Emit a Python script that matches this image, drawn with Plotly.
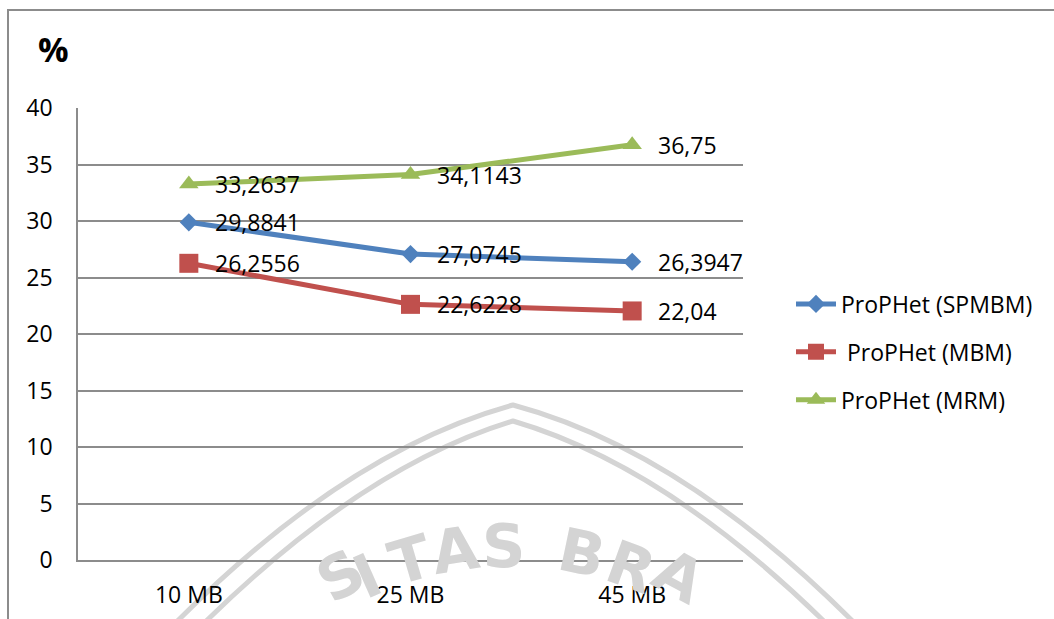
import math
import plotly.graph_objects as go

# ---- data ----
categories = ["10 MB", "25 MB", "45 MB"]
series_names = ["ProPHet (SPMBM)", " ProPHet (MBM)", "ProPHet (MRM)"]
spmbm = [29.8841, 27.0745, 26.3947]
mbm = [26.2556, 22.6228, 22.04]
mrm = [33.2637, 34.1143, 36.75]
y_ticks = [0, 5, 10, 15, 20, 25, 30, 35, 40]

colors = ["#4F81BD", "#C0504D", "#9BBB59"]
symbols = ["diamond", "square", "triangle-up"]
sizes = [14, 19, 17]

W, H = 1054, 619
L, R, T, B = 78, 743, 108, 560


def px(x):
    return (x - L) / (R - L)


def py(y):
    return (B - y) / (B - T)


FONT = "Open Sans"

fig = go.Figure()
for i, vals in enumerate([spmbm, mbm, mrm]):
    fig.add_trace(go.Scatter(
        x=categories, y=vals, name=series_names[i],
        mode="lines+markers",
        line=dict(color=colors[i], width=5),
        marker=dict(symbol=symbols[i], size=sizes[i], color=colors[i],
                    line=dict(width=0)),
        legendgroup="g%d" % i,
    ))

# value labels to the right of each point
annotations = []
for vals in [spmbm, mbm, mrm]:
    for c, v in zip(categories, vals):
        annotations.append(dict(
            x=c, y=v, xref="x", yref="y",
            text=("%g" % v).replace(".", ","),
            showarrow=False, xanchor="left", yanchor="middle",
            xshift=24, font=dict(family=FONT, size=23, color="black"),
        ))

annotations.append(dict(
    x=px(53), y=py(49), xref="paper", yref="paper", text="<b>%</b>",
    showarrow=False, xanchor="center", yanchor="middle",
    font=dict(family=FONT, size=34, color="black"),
))

# faint emblem watermark behind the chart
wm_color = "#d4d4d4"
shapes = []
for (lx, ap, rx) in [(140, 405, 890), (168, 421, 862)]:
    path = "M %f,%f Q %f,%f %f,%f Q %f,%f %f,%f" % (
        px(lx), py(660), px(330 + (lx - 140) * 0.6), py(455 + (ap - 405)),
        px(513), py(ap), px(700 - (890 - rx) * 0.6), py(455 + (ap - 405)),
        px(rx), py(660))
    shapes.append(dict(type="path", path=path, xref="paper", yref="paper",
                       line=dict(color=wm_color, width=5), layer="below"))

wm_letters = list("SITASBRA")
wm_angles = [-28.7, -23.8, -16.4, -8.9, -1.1, 11.8, 20, 28.6]
cx, cy, rad = 510, 900, 354
for ch, a in zip(wm_letters, wm_angles):
    t = math.radians(a)
    lx = cx + rad * math.sin(t)
    ly = min(cy - rad * math.cos(t), 576)
    annotations.append(dict(
        x=px(lx), y=py(ly),
        xref="paper", yref="paper", text="<b>%s</b>" % ch, textangle=a,
        showarrow=False, xanchor="center", yanchor="middle",
        font=dict(family="DejaVu Sans", size=60, color=wm_color),
    ))

# outer chart frame (top and left edges)
shapes.append(dict(type="path",
                   path="M %f,%f L %f,%f L %f,%f" % (px(8), py(700), px(8), py(10), px(1200), py(10)),
                   xref="paper", yref="paper",
                   line=dict(color="#8c8c8c", width=2)))

fig.update_layout(
    width=W, height=H,
    margin=dict(l=L, r=W - R, t=T, b=H - B, pad=0, autoexpand=False),
    paper_bgcolor="white", plot_bgcolor="rgba(0,0,0,0)",
    font=dict(family=FONT, size=23, color="black"),
    showlegend=True,
    legend=dict(x=px(791), y=py(352), xanchor="left", yanchor="middle",
                font=dict(family=FONT, size=23, color="black"),
                tracegroupgap=15, bgcolor="rgba(0,0,0,0)", itemwidth=40),
    xaxis=dict(type="category", categoryarray=categories, range=[-0.5, 2.5],
               showgrid=False, zeroline=False, showline=True, automargin=False,
               linecolor="#8c8c8c", linewidth=1.5, ticks="",
               ticklabelstandoff=14, tickfont=dict(size=23)),
    yaxis=dict(range=[0, 40], tickvals=y_ticks, showgrid=True, automargin=False,
               gridcolor="#8c8c8c", gridwidth=1.5, zeroline=False,
               showline=True, linecolor="#8c8c8c", linewidth=1.5,
               ticks="", ticklabelstandoff=19, tickfont=dict(size=23)),
    annotations=annotations,
    shapes=shapes,
)

fig.write_html("out.html")
